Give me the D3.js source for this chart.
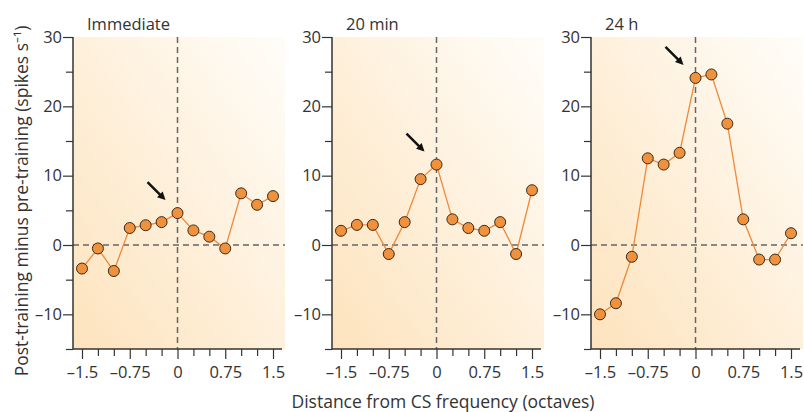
<!DOCTYPE html>
<html>
<head>
<meta charset="UTF-8">
<title>CS frequency</title>
<script src="https://cdn.jsdelivr.net/npm/d3@7"></script>
<style>
  body { margin: 0; background: #fff; }
  text { font-family: "Open Sans", sans-serif; fill: #333; }
</style>
</head>
<body>
<script>
// octaves from CS frequency
var octaves = [-1.5, -1.25, -1, -0.75, -0.5, -0.25, 0, 0.25, 0.5, 0.75, 1, 1.25, 1.5];
var panelTitles = ["Immediate", "20 min", "24 h"];
var immediate = [-3.4, -0.5, -3.75, 2.45, 2.85, 3.3, 4.6, 2.1, 1.2, -0.5, 7.45, 5.8, 7.05];
var min20 = [2.05, 2.9, 2.9, -1.3, 3.3, 9.5, 11.6, 3.7, 2.45, 2.05, 3.3, -1.3, 7.9];
var h24 = [-10, -8.4, -1.7, 12.5, 11.6, 13.3, 24.1, 24.6, 17.5, 3.7, -2.1, -2.1, 1.7];
var xTickLabels = [-1.5, -0.75, 0, 0.75, 1.5];
var yTickLabels = [-10, 0, 10, 20, 30];

var series = [immediate, min20, h24];

var w = 804, h = 412;
var panelLeft = [73, 332, 591];
var pw = 212;
var yTop = 37, yBottom = 349;

var svg = d3.select("body").append("svg")
    .attr("width", w)
    .attr("height", h);

var grad = svg.append("defs").append("linearGradient")
    .attr("id", "bg")
    .attr("x1", "0").attr("y1", "1")
    .attr("x2", "1").attr("y2", "0");
grad.append("stop").attr("offset", "0").attr("stop-color", "#fde3bd");
grad.append("stop").attr("offset", "1").attr("stop-color", "#fffdf9");

var fmt = function(d) { return d < 0 ? "\u2013" + Math.abs(d) : "" + d; };

series.forEach(function(vals, p) {
  var x0 = panelLeft[p];
  var x = d3.scaleLinear().domain([-1.5, 1.5]).range([x0 + 9, x0 + 200]);
  var y = d3.scaleLinear().domain([-15, 30]).range([yBottom, yTop]);
  var g = svg.append("g");

  g.append("rect")
    .attr("x", x0).attr("y", yTop)
    .attr("width", pw).attr("height", yBottom - yTop)
    .attr("fill", "url(#bg)");

  // dashed zero lines
  g.append("line")
    .attr("x1", x0).attr("x2", x0 + pw)
    .attr("y1", y(0)).attr("y2", y(0))
    .attr("stroke", "#666").attr("stroke-width", 1.5)
    .attr("stroke-dasharray", "6,4");
  g.append("line")
    .attr("x1", x(0)).attr("x2", x(0))
    .attr("y1", yTop).attr("y2", yBottom)
    .attr("stroke", "#666").attr("stroke-width", 1.5)
    .attr("stroke-dasharray", "6,4");

  // y axis
  var yAxis = g.append("g")
    .attr("transform", "translate(" + x0 + ",0)")
    .call(d3.axisLeft(y).tickValues(d3.range(-15, 31, 5)).tickSize(9).tickFormat(function(d) {
      return yTickLabels.indexOf(d) >= 0 ? fmt(d) : "";
    }));
  yAxis.select(".domain").attr("stroke", "#333").attr("stroke-width", 1.5).attr("d", "M0," + yTop + "V" + yBottom);
  yAxis.selectAll(".tick line").attr("stroke", "#333").attr("stroke-width", 1.2)
    .attr("x2", function(d) { return d % 10 == 0 ? -10 : -7; });
  yAxis.selectAll(".tick text").attr("x", -11).attr("font-size", 16.5).attr("fill", "#333");

  // x axis
  var xAxis = g.append("g")
    .attr("transform", "translate(0," + yBottom + ")")
    .call(d3.axisBottom(x).tickValues(octaves).tickSize(8).tickFormat(function(d) {
      return xTickLabels.indexOf(d) >= 0 ? fmt(d) : "";
    }));
  xAxis.select(".domain").attr("stroke", "#333").attr("stroke-width", 1.5).attr("d", "M" + x0 + ",0H" + (x0 + 209));
  xAxis.selectAll(".tick line").attr("stroke", "#333").attr("stroke-width", 1.2)
    .attr("y2", function(d) { return xTickLabels.indexOf(d) >= 0 ? 10 : 7; });
  xAxis.selectAll(".tick text").attr("y", 17).attr("font-size", 16.5).attr("fill", "#333");

  // data line and dots
  var line = d3.line()
    .x(function(d, i) { return x(octaves[i]); })
    .y(function(d) { return y(d); });
  g.append("path")
    .datum(vals)
    .attr("d", line)
    .attr("fill", "none")
    .attr("stroke", "#f0883a")
    .attr("stroke-width", 1.3);
  g.selectAll("circle")
    .data(vals)
    .enter()
      .append("circle")
      .attr("cx", function(d, i) { return x(octaves[i]); })
      .attr("cy", function(d) { return y(d); })
      .attr("r", 5.5)
      .attr("fill", "#f0913d")
      .attr("stroke", "#3a2a1a")
      .attr("stroke-width", 1);

  // arrow pointing at CS value
  var px = x(0), py = y(vals[6]);
  var tx = px - 12, ty = py - 13;
  g.append("line")
    .attr("x1", px - 30).attr("y1", py - 31)
    .attr("x2", tx - 4).attr("y2", ty - 4)
    .attr("stroke", "#111").attr("stroke-width", 2.4);
  g.append("path")
    .attr("d", "M0,0L-8,-4L-8,4Z")
    .attr("transform", "translate(" + tx + "," + ty + ") rotate(45)")
    .attr("fill", "#111");

  g.append("text")
    .attr("x", x0 + 14).attr("y", 30)
    .attr("font-size", 16.5)
    .text(panelTitles[p]);
});

svg.append("text")
  .attr("transform", "translate(28,201) rotate(-90)")
  .attr("text-anchor", "middle")
  .attr("font-size", 17.5)
  .text("Post-training minus pre-training (spikes s\u207B\u00B9)");

svg.append("text")
  .attr("x", 443).attr("y", 408)
  .attr("text-anchor", "middle")
  .attr("font-size", 17.5)
  .text("Distance from CS frequency (octaves)");
</script>
</body>
</html>
